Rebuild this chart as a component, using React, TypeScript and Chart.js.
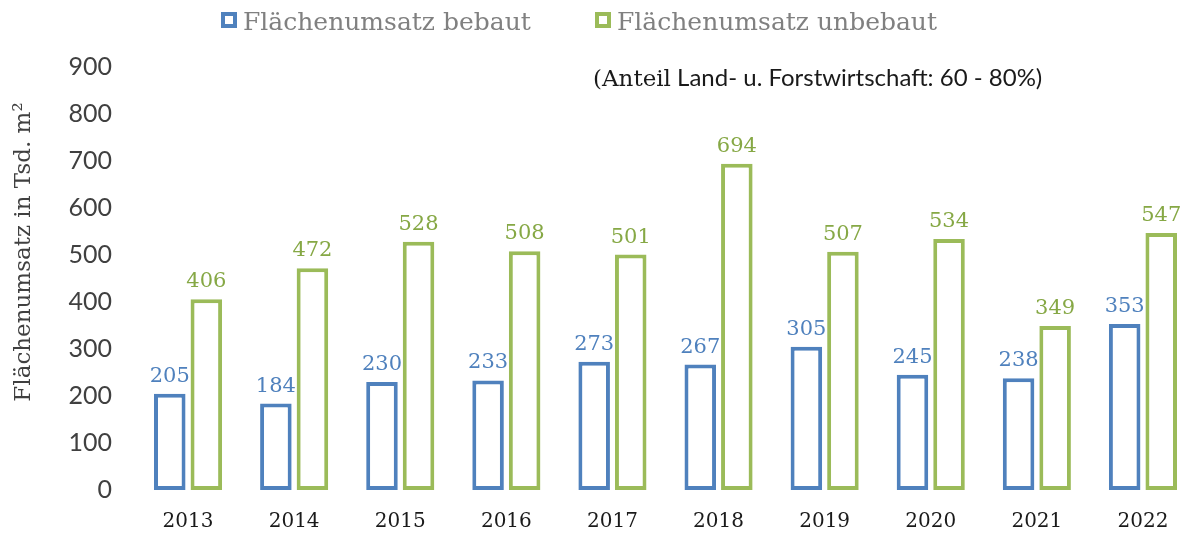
import React, { useEffect, useRef } from "react";
import { Chart, registerables } from "chart.js";

Chart.register(...registerables);

const years = ["2013", "2014", "2015", "2016", "2017", "2018", "2019", "2020", "2021", "2022"];
const bebaut = [205, 184, 230, 233, 273, 267, 305, 245, 238, 353];
const unbebaut = [406, 472, 528, 508, 501, 694, 507, 534, 349, 547];
const seriesNames = ["Flächenumsatz bebaut", "Flächenumsatz unbebaut"];
const yTitle = "Flächenumsatz in Tsd. m²";
const noteHead = "(Anteil";
const noteTail = " Land- u. Forstwirtschaft: 60 - 80%)";
const yMin = 0;
const yMax = 900;
const yStep = 100;

const BLUE = "#4F81BD";
const GREEN = "#9BBB59";
const BLUE_LABEL = "#4F81BD";
const GREEN_LABEL = "#86A845";

const overlayPlugin = {
  id: "overlay",
  afterDatasetsDraw(chart: any) {
    const ctx = chart.ctx;
    ctx.save();
    // data labels
    const labelColors = [BLUE_LABEL, GREEN_LABEL];
    chart.data.datasets.forEach((ds: any, di: number) => {
      const meta = chart.getDatasetMeta(di);
      ctx.fillStyle = labelColors[di];
      ctx.font = "21px 'DejaVu Serif'";
      ctx.textAlign = "center";
      ctx.textBaseline = "alphabetic";
      meta.data.forEach((el: any, i: number) => {
        ctx.fillText(String(ds.data[i]), el.x, el.y - 12);
      });
    });

    // legend
    const legendItems = [
      { x: 221, color: BLUE, text: seriesNames[0] },
      { x: 595, color: GREEN, text: seriesNames[1] },
    ];
    legendItems.forEach((it) => {
      ctx.fillStyle = it.color;
      ctx.fillRect(it.x, 12, 16, 16);
      ctx.fillStyle = "#ffffff";
      ctx.fillRect(it.x + 4, 16, 8, 8);
      ctx.fillStyle = "#808080";
      ctx.font = "25px 'DejaVu Serif'";
      ctx.textAlign = "left";
      ctx.textBaseline = "alphabetic";
      ctx.fillText(it.text, it.x + 22, 30);
    });

    // note
    ctx.fillStyle = "#1a1a1a";
    ctx.textAlign = "left";
    ctx.textBaseline = "alphabetic";
    ctx.font = "23px 'DejaVu Serif'";
    ctx.fillText(noteHead, 593, 86);
    const headW = ctx.measureText(noteHead).width;
    ctx.font = "24px Lato";
    ctx.fillText(noteTail, 593 + headW, 86);

    // y title
    ctx.translate(24, 252);
    ctx.rotate(-Math.PI / 2);
    ctx.fillStyle = "#404040";
    ctx.font = "23px 'DejaVu Serif'";
    ctx.textAlign = "center";
    ctx.textBaseline = "middle";
    ctx.fillText(yTitle, 0, 0);
    ctx.restore();
  },
};

export default function App() {
  const ref = useRef<HTMLCanvasElement | null>(null);
  useEffect(() => {
    if (!ref.current) return;
    const chart = new Chart(ref.current, {
      type: "bar",
      data: {
        labels: years,
        datasets: [
          {
            label: seriesNames[0],
            data: bebaut,
            backgroundColor: "#ffffff",
            borderColor: BLUE,
            borderWidth: 4,
            borderSkipped: false,
            categoryPercentage: 0.689,
            barPercentage: 0.863,
          },
          {
            label: seriesNames[1],
            data: unbebaut,
            backgroundColor: "#ffffff",
            borderColor: GREEN,
            borderWidth: 4,
            borderSkipped: false,
            categoryPercentage: 0.689,
            barPercentage: 0.863,
          },
        ],
      },
      options: {
        animation: false,
        responsive: true,
        maintainAspectRatio: false,
        layout: { padding: { top: 67, left: 0, right: 0, bottom: 0 } },
        plugins: {
          legend: { display: false },
          tooltip: { enabled: false },
          title: { display: false },
        },
        scales: {
          x: {
            grid: { display: false, drawTicks: false },
            border: { display: false },
            ticks: {
              color: "#1a1a1a",
              font: { family: "'DejaVu Serif'", size: 20 },
              padding: 20,
            },
            afterFit: (s: any) => {
              s.height = 43;
            },
          },
          y: {
            min: yMin,
            max: yMax,
            grid: { display: false, drawTicks: false },
            border: { display: false },
            ticks: {
              stepSize: yStep,
              color: "#404040",
              font: { family: "Lato", size: 25 },
              padding: 23,
            },
            afterFit: (s: any) => {
              s.width = 135;
            },
          },
        },
      },
      plugins: [overlayPlugin],
    });
    return () => chart.destroy();
  }, []);

  return (
    <div style={{ position: "absolute", left: 0, top: 0, width: 1188, height: 533, overflow: "hidden", background: "#fff" }}>
      <div style={{ position: "relative", width: 1196, height: 533 }}>
        <canvas ref={ref} />
      </div>
    </div>
  );
}
